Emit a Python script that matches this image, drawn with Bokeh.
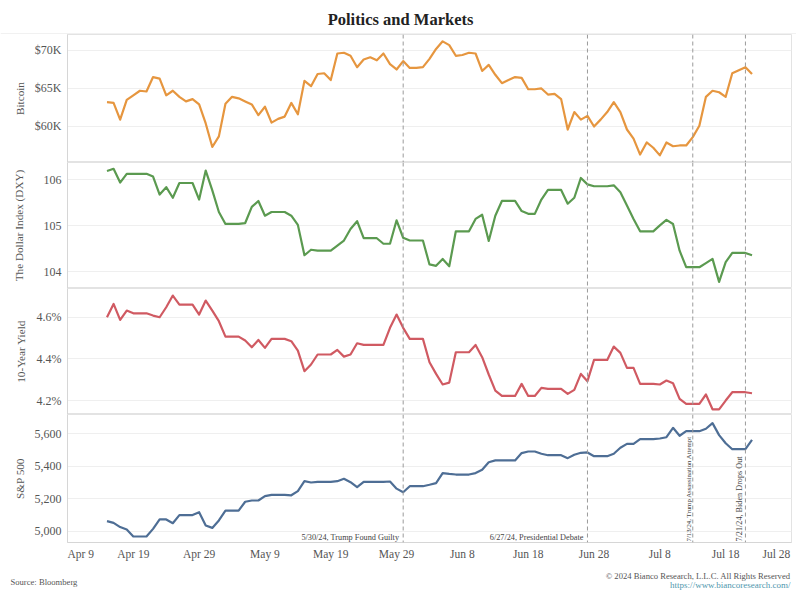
import pandas as pd
from math import pi
from bokeh.plotting import figure
from bokeh.models import (FixedTicker, Span, Label, Range1d, PrintfTickFormatter,
                          NumeralTickFormatter, ColumnDataSource)
from bokeh.layouts import column, row
from bokeh.embed import file_html
from bokeh.resources import INLINE

# ---------------- data (daily, Apr 15 2024 .. Jul 22 2024) ----------------
start_date = "2024-04-15"

bitcoin_k = [63.2, 63.1, 60.9, 63.5, 64.1, 64.7, 64.6, 66.5, 66.3, 64.1,
             64.7, 63.9, 63.3, 63.6, 62.9, 60.4, 57.3, 58.7, 63.0, 63.9,
             63.7, 63.3, 62.9, 61.5, 62.6, 60.5, 61.0, 61.3, 63.1, 61.6,
             66.0, 65.3, 66.9, 67.0, 66.1, 69.6, 69.7, 69.3, 67.8, 68.8,
             69.1, 68.7, 69.6, 68.2, 67.5,
             68.6, 67.7, 67.7, 67.8, 68.9, 70.2, 71.2, 70.7, 69.3, 69.4,
             69.7, 69.6, 67.3, 68.1, 66.8, 65.7, 66.1, 66.5, 66.4, 64.9,
             64.9, 65.0, 64.2, 64.3, 63.6, 59.6, 61.9, 60.9, 61.4, 60.0,
             60.9, 61.9, 63.2, 61.9, 59.6, 58.4, 56.3, 57.9, 57.2, 56.2,
             57.9, 57.4, 57.5, 57.5, 58.6, 60.1, 63.9, 64.7, 64.5, 63.9,
             67.0, 67.4, 67.8, 66.9]

dxy = [106.19, 106.24, 105.94, 106.13, 106.13, 106.13, 106.13, 106.07, 105.68, 105.84,
       105.61, 105.93, 105.93, 105.93, 105.57, 106.20, 105.77, 105.30, 105.04, 105.04,
       105.04, 105.06, 105.41, 105.54, 105.22, 105.30, 105.30, 105.30, 105.22, 105.02,
       104.36, 104.48, 104.46, 104.46, 104.46, 104.57, 104.68, 104.93, 105.10, 104.73,
       104.73, 104.73, 104.61, 104.61, 105.12,
       104.74, 104.68, 104.68, 104.68, 104.16, 104.13, 104.28, 104.12, 104.88, 104.88,
       104.88, 105.15, 105.24, 104.67, 105.22, 105.54, 105.54, 105.54, 105.32, 105.26,
       105.26, 105.57, 105.78, 105.78, 105.78, 105.48, 105.61, 106.04, 105.90, 105.86,
       105.86, 105.86, 105.88, 105.73, 105.44, 105.15, 104.88, 104.88, 104.88, 105.01,
       105.13, 105.04, 104.46, 104.10, 104.10, 104.10, 104.19, 104.28, 103.78, 104.21,
       104.41, 104.41, 104.41, 104.36]

yield_10y = [4.600, 4.664, 4.587, 4.632, 4.619, 4.619, 4.619, 4.608, 4.600, 4.648,
             4.704, 4.661, 4.661, 4.661, 4.613, 4.680, 4.632, 4.581, 4.507, 4.507,
             4.507, 4.488, 4.456, 4.491, 4.453, 4.496, 4.496, 4.496, 4.485, 4.440,
             4.341, 4.373, 4.421, 4.421, 4.421, 4.443, 4.411, 4.421, 4.475, 4.467,
             4.467, 4.467, 4.467, 4.549, 4.613,
             4.549, 4.496, 4.496, 4.496, 4.384, 4.328, 4.277, 4.286, 4.432, 4.432,
             4.432, 4.467, 4.408, 4.325, 4.248, 4.222, 4.222, 4.222, 4.280, 4.222,
             4.222, 4.261, 4.256, 4.256, 4.256, 4.232, 4.251, 4.328, 4.293, 4.395,
             4.395, 4.395, 4.459, 4.429, 4.357, 4.357, 4.280, 4.280, 4.280, 4.277,
             4.296, 4.283, 4.208, 4.184, 4.184, 4.184, 4.229, 4.158, 4.158, 4.200,
             4.240, 4.240, 4.240, 4.235]

sp500 = [5062, 5051, 5025, 5010, 4967, 4967, 4967, 5014, 5072, 5072,
         5049, 5099, 5099, 5099, 5117, 5035, 5020, 5066, 5127, 5127,
         5127, 5181, 5189, 5189, 5216, 5224, 5224, 5224, 5221, 5247,
         5308, 5300, 5304, 5304, 5304, 5308, 5323, 5302, 5271, 5304,
         5304, 5304, 5304, 5306, 5262,
         5240, 5277, 5277, 5277, 5286, 5296, 5358, 5353, 5349, 5349,
         5349, 5358, 5378, 5425, 5436, 5436, 5436, 5436, 5481, 5491,
         5491, 5477, 5468, 5468, 5468, 5450, 5471, 5483, 5485, 5462,
         5462, 5462, 5477, 5514, 5538, 5538, 5567, 5567, 5567, 5571,
         5579, 5637, 5588, 5616, 5616, 5616, 5631, 5666, 5592, 5542,
         5505, 5505, 5505, 5563]

tick_dates = ["2024-04-09", "2024-04-19", "2024-04-29", "2024-05-09", "2024-05-19", "2024-05-29",
              "2024-06-08", "2024-06-18", "2024-06-28", "2024-07-08", "2024-07-18", "2024-07-28"]
tick_labels = ["Apr 9", "Apr 19", "Apr 29", "May 9", "May 19", "May 29",
               "Jun 8", "Jun 18", "Jun 28", "Jul 8", "Jul 18", "Jul 28"]

event_dates = ["2024-05-30", "2024-06-27", "2024-07-13", "2024-07-21"]
event_labels = ["5/30/24, Trump Found Guilty", "6/27/24, Presidential Debate",
                "7/13/24, Trump Assassination Attempt", "7/21/24, Biden Drops Out"]

btc_ticks = [60, 65, 70]
dxy_ticks = [104, 105, 106]
yield_ticks = [4.2, 4.4, 4.6]
sp_ticks = [5000, 5200, 5400, 5600]

title_text = "Politics and Markets"
source_text = "Source: Bloomberg"
copyright_text = "\u00a9 2024 Bianco Research, L.L.C. All Rights Reserved"
url_text = "https://www.biancoresearch.com/"

# ---------------- helpers ----------------
DAY_MS = 86400000.0


def ms(d):
    return pd.Timestamp(d).value / 1e6


dates = pd.date_range(start_date, periods=len(bitcoin_k), freq="D")
FONT = "Liberation Serif"
W = 796
LEFT = 67
RIGHT = 5
GRID = "#efefef"
OUTLINE = "#e3e3e3"
AXIS = "#d6d6d6"
TXT = "#555555"

x_range = Range1d(start=ms(tick_dates[0]), end=ms(tick_dates[-1]))


def blank(height):
    """A figure whose frame fills its whole canvas, in pixel-like units."""
    p = figure(width=W, height=height, x_range=Range1d(0, W), y_range=Range1d(height, 0),
               x_axis_location=None, y_axis_location=None, output_backend="svg",
               toolbar_location=None, min_border=0, min_border_left=0, min_border_right=0,
               min_border_top=0, min_border_bottom=0)
    p.outline_line_color = None
    p.grid.grid_line_color = None
    return p


def panel(height, bottom, values, color, ylabel, yr, ticks, fmt, label_standoff, xaxis=False):
    p = figure(width=W, height=height, x_range=x_range, y_range=Range1d(*yr),
               x_axis_type="datetime", x_axis_location=("below" if xaxis else None),
               output_backend="svg", toolbar_location=None,
               min_border_left=LEFT, min_border_right=RIGHT,
               min_border_top=0, min_border_bottom=bottom)
    src = ColumnDataSource(dict(x=dates, y=values))
    p.line("x", "y", source=src, line_color=color, line_width=2.2, line_join="round")
    p.outline_line_color = OUTLINE
    p.xgrid.grid_line_color = None
    p.ygrid.grid_line_color = GRID
    p.ygrid.ticker = FixedTicker(ticks=ticks)
    ax = p.yaxis[0]
    ax.ticker = FixedTicker(ticks=ticks)
    ax.formatter = fmt
    ax.major_tick_line_color = None
    ax.minor_tick_line_color = None
    ax.major_tick_out = 0
    ax.major_tick_in = 0
    ax.axis_line_color = AXIS
    ax.major_label_standoff = 6
    ax.major_label_text_font = FONT
    ax.major_label_text_font_size = "12px"
    ax.major_label_text_color = TXT
    ax.axis_label = ylabel
    ax.axis_label_text_font = FONT
    ax.axis_label_text_font_style = "normal"
    ax.axis_label_text_font_size = "11.2px"
    ax.axis_label_text_color = TXT
    ax.axis_label_standoff = label_standoff
    for d in event_dates:
        p.add_layout(Span(location=ms(d), dimension="height", line_color="#9a9a9a",
                          line_width=1, line_dash="4 3"))
    return p


# title strip
pt = blank(34)
pt.add_layout(Label(x=400, y=19, text=title_text, text_align="center", text_baseline="middle",
                    text_font=FONT, text_font_style="bold", text_font_size="16.5px",
                    text_color="#222222"))
pt.add_layout(Span(location=33.5, dimension="width", line_color=OUTLINE, line_width=1))

p1 = panel(128, 0, bitcoin_k, "#E6963F", "Bitcoin", (55.26, 72.1), btc_ticks,
           PrintfTickFormatter(format="$%dK"), 6)
p2 = panel(126, 0, dxy, "#5B9A50", "The Dollar Index (DXY)", (103.637, 106.376), dxy_ticks,
           NumeralTickFormatter(format="0"), 16)
p3 = panel(126, 0, yield_10y, "#D05A62", "10-Year Yield", (4.133, 4.738), yield_ticks,
           PrintfTickFormatter(format="%.1f%%"), 7)
p4 = panel(148, 20, sp500, "#4E6E95", "S&P 500", (4930, 5719), sp_ticks,
           NumeralTickFormatter(format="0,0"), 6, xaxis=True)

# x axis: first/last labels are nudged inside the frame, as in the reference
tick_pos = [ms(d) for d in tick_dates]
tick_pos[0] += 2.0 * DAY_MS
tick_pos[-1] -= 2.3 * DAY_MS
xa = p4.xaxis[0]
xa.ticker = FixedTicker(ticks=tick_pos)
xa.major_label_overrides = {t: lab for t, lab in zip(tick_pos, tick_labels)}
xa.major_tick_line_color = None
xa.minor_tick_line_color = None
xa.major_tick_out = 0
xa.major_tick_in = 0
xa.axis_line_color = AXIS
xa.major_label_standoff = 5
xa.major_label_text_font = FONT
xa.major_label_text_font_size = "11.5px"
xa.major_label_text_color = TXT

# event annotations
ANN = "#444444"
for d, lab in zip(event_dates[:2], event_labels[:2]):
    p4.add_layout(Label(x=ms(d), y=4930, text=lab, text_align="right", text_baseline="bottom",
                        x_offset=-4, y_offset=1, text_font=FONT, text_font_size="8.25px",
                        text_color=ANN))
for d, lab, fs in zip(event_dates[2:], event_labels[2:], ["6.8px", "8.2px"]):
    p4.add_layout(Label(x=ms(d), y=4930, text=lab, angle=pi / 2, text_align="left",
                        text_baseline="bottom", x_offset=-1, y_offset=1, text_font=FONT,
                        text_font_size=fs, text_color=ANN))

# footer strip
pf = blank(30)
pf.add_layout(Label(x=10, y=19, text=source_text, text_align="left", text_baseline="middle",
                    text_font=FONT, text_font_size="8.6px", text_color="#555555"))
pf.add_layout(Label(x=790, y=13.7, text=copyright_text, text_align="right",
                    text_baseline="middle", text_font=FONT, text_font_size="8.6px",
                    text_color="#555555"))
pf.add_layout(Label(x=790, y=22, text=url_text, text_align="right", text_baseline="middle",
                    text_font=FONT, text_font_size="9px", text_color="#4f97ad"))

layout = column(row(pt), p1, p2, p3, p4, row(pf), spacing=0)
open("out.html", "w").write(file_html(layout, INLINE))
